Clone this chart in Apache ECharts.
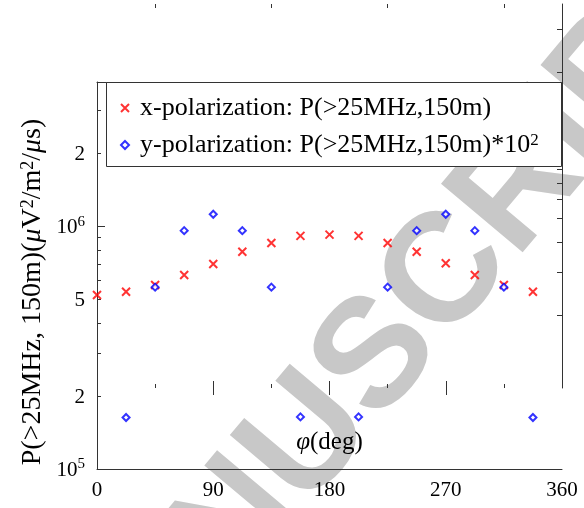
<!DOCTYPE html>
<html>
<head>
<meta charset="utf-8">
<script src="https://cdn.jsdelivr.net/npm/echarts@6/dist/echarts.min.js"></script>
<style>
  html, body { margin: 0; padding: 0; background: #fff; }
  #chart { width: 584px; height: 508px; }
</style>
</head>
<body>
<div id="chart"></div>
<script>
// Azimuth of the observer (deg)
const phi = [0, 22.5, 45, 67.5, 90, 112.5, 135, 157.5, 180, 202.5, 225, 247.5, 270, 292.5, 315, 337.5];
// x-polarization P(>25MHz,150m) in uV^2/m^2/us
const xPol = [5.22e5, 5.38e5, 5.74e5, 6.31e5, 7.0e5, 7.87e5, 8.55e5, 9.14e5, 9.25e5, 9.14e5, 8.55e5, 7.87e5, 7.05e5, 6.31e5, 5.74e5, 5.38e5];
// y-polarization P(>25MHz,150m); it vanishes at 0 and 180 deg
const yPol = [null, 1630, 5620, 9610, 11230, 9610, 5620, 1640, null, 1640, 5620, 9610, 11230, 9610, 5620, 1630];
const yPolScale = 100;

// axis ranges and ticks
const phiRange = [0, 360];
const phiTickStep = 90;
const phiMajorMarks = [90, 180, 270];
const phiMinorMarks = [45, 135, 225, 315];
const pRange = [1e5, 3.94e6];
const pLabelValues = [1e5, 2e5, 5e5, 1e6, 2e6];
const pLabelTexts = ['10^5', '2', '5', '10^6', '2'];
const pMajorTicks = [1e5, 1e6];
const pMinorTicks = [2e5, 3e5, 4e5, 5e5, 6e5, 7e5, 8e5, 9e5, 2e6, 3e6];
const rightRange = [1, 38.3];
const rightTicks = [2, 3, 4, 5, 6, 7, 8, 9, 20, 30];

const xName = 'x-polarization: P(>25MHz,150m)';
const yName = 'y-polarization: P(>25MHz,150m)*10^2';

const lg = Math.log10;
const FONT = '"Liberation Serif", "Times New Roman", Times, serif';
const AX = '#333';

const xSeries = phi.map((p, i) => [p, lg(xPol[i])]);
const ySeries = phi.map((p, i) => yPol[i] == null ? null : [p, lg(yPol[i] * yPolScale)]).filter(d => d);

// an axis that only draws inward tick marks at the given values
function markAxis(gridIndex, position, values, length) {
  return {
    gridIndex, position, type: 'value',
    axisLine: { show: false },
    axisLabel: { show: false },
    splitLine: { show: false },
    axisTick: { show: true, inside: true, length, customValues: values, lineStyle: { color: AX, width: 1 } }
  };
}

const xAxes = [
  {
    gridIndex: 0, type: 'value', position: 'bottom',
    min: phiRange[0], max: phiRange[1], interval: phiTickStep,
    axisLine: { show: true, onZero: false, lineStyle: { color: AX, width: 1 } },
    axisTick: { show: false },
    splitLine: { show: false },
    axisLabel: { fontFamily: FONT, fontSize: 21, color: '#000', margin: 11 },
    name: '{i|φ}(deg)', nameLocation: 'middle', nameGap: -39,
    nameTextStyle: { fontFamily: FONT, fontSize: 25, color: '#000',
      rich: { i: { fontFamily: FONT, fontSize: 25, fontStyle: 'italic', color: '#000' } } }
  },
  {
    gridIndex: 0, type: 'value', position: 'top', min: phiRange[0], max: phiRange[1],
    axisLine: { show: true, onZero: false, lineStyle: { color: AX, width: 1 } },
    axisTick: { show: false }, axisLabel: { show: false }, splitLine: { show: false }
  }
];
[['top', phiMajorMarks, 7], ['top', phiMinorMarks, 4], ['bottom', phiMajorMarks, 7], ['bottom', phiMinorMarks, 4]]
  .forEach(([pos, vals, len]) => {
    const a = markAxis(1, pos, vals, len);
    a.min = phiRange[0]; a.max = phiRange[1];
    xAxes.push(a);
  });

const pMin = lg(pRange[0]), pMax = lg(pRange[1]);
const yAxes = [
  {
    gridIndex: 0, type: 'value', position: 'left', min: pMin, max: pMax,
    axisLine: { show: true, onZero: false, lineStyle: { color: AX, width: 1 } },
    splitLine: { show: false },
    axisTick: { show: true, inside: true, length: 8, customValues: pMajorTicks.map(lg), lineStyle: { color: AX } },
    axisLabel: {
      margin: 12, color: '#000', fontFamily: FONT, fontSize: 21,
      customValues: pLabelValues.map(lg),
      formatter: v => {
        const i = pLabelValues.findIndex(t => Math.abs(lg(t) - v) < 1e-9);
        return i < 0 ? '' : '{b|' + pLabelTexts[i].replace(/\^(\w+)/, '}{s|$1') + '}';
      },
      rich: {
        b: { fontFamily: FONT, fontSize: 21, color: '#000', lineHeight: 24, verticalAlign: 'bottom' },
        s: { fontFamily: FONT, fontSize: 15, color: '#000', lineHeight: 15, verticalAlign: 'top' }
      }
    }
  },
  Object.assign(markAxis(0, 'left', pMinorTicks.map(lg), 4), { min: pMin, max: pMax }),
  {
    gridIndex: 1, type: 'value', position: 'right', min: lg(rightRange[0]), max: lg(rightRange[1]),
    axisLine: { show: true, onZero: false, lineStyle: { color: AX, width: 1 } },
    splitLine: { show: false }, axisLabel: { show: false },
    axisTick: { show: true, inside: true, length: 5, customValues: rightTicks.map(lg), lineStyle: { color: AX } }
  }
];

const option = {
  animation: false,
  backgroundColor: '#fff',
  grid: [
    { left: 97, top: 82, width: 465, height: 387, outerBoundsMode: 'none' },
    { left: 97, top: 4, width: 465, height: 384, outerBoundsMode: 'none' }
  ],
  xAxis: xAxes,
  yAxis: yAxes,
  legend: {
    orient: 'vertical', left: 120, top: 95, padding: 0, z: 20,
    itemWidth: 8, itemHeight: 8, itemGap: 11,
    selectedMode: false,
    data: [
      { name: xName, itemStyle: { color: '#f00', borderColor: '#f00', borderWidth: 2 } },
      { name: yName }
    ],
    formatter: name => '{t|' + name.replace(/\^(\w+)/, '}{s|$1') + '}',
    textStyle: {
      fontFamily: FONT, fontSize: 26, color: '#000',
      rich: {
        t: { fontFamily: FONT, fontSize: 26, color: '#000', lineHeight: 26, padding: [0, 0, 0, 6] },
        s: { fontFamily: FONT, fontSize: 17, color: '#000', lineHeight: 17, verticalAlign: 'top' }
      }
    }
  },
  graphic: [
    {
      type: 'text', x: 378, y: 358, rotation: 50 * Math.PI / 180, z: -1, silent: true,
      style: { text: 'MANUSCRIPT', font: 'bold 155px "Liberation Sans", Arial, sans-serif',
        fill: '#c8c8c8', align: 'center', verticalAlign: 'middle' }
    },
    {
      type: 'rect', z: 10, silent: true,
      shape: { x: 106.5, y: 82.5, width: 455, height: 84 },
      style: { fill: '#fff', stroke: AX, lineWidth: 1 }
    },
    {
      type: 'text', x: 33, y: 292, rotation: Math.PI / 2, z: 20, silent: true,
      style: {
        text: 'P(>25MHz, 150m)({i|μ}V{s|2}/m{s|2}/{i|μ}s)',
        font: '28px ' + FONT, fill: '#000', align: 'center', verticalAlign: 'middle',
        rich: {
          i: { fontFamily: FONT, fontSize: 28, fontStyle: 'italic', fill: '#000' },
          s: { fontFamily: FONT, fontSize: 18, fill: '#000', verticalAlign: 'top', lineHeight: 18 }
        }
      }
    }
  ],
  series: [
    {
      type: 'scatter', name: xName, xAxisIndex: 0, yAxisIndex: 0, z: 3,
      symbol: 'path://M0,0L10,10M10,0L0,10', symbolSize: 8,
      itemStyle: { color: '#f00', borderColor: '#f00', borderWidth: 2 },
      emphasis: { disabled: true },
      data: xSeries
    },
    {
      type: 'scatter', name: yName, xAxisIndex: 0, yAxisIndex: 0, z: 4,
      symbol: 'emptyDiamond', symbolSize: 7,
      itemStyle: { color: '#00f' },
      emphasis: { disabled: true },
      data: ySeries
    }
  ]
};

const chart = echarts.init(document.getElementById('chart'));
chart.setOption(option);
</script>
</body>
</html>
